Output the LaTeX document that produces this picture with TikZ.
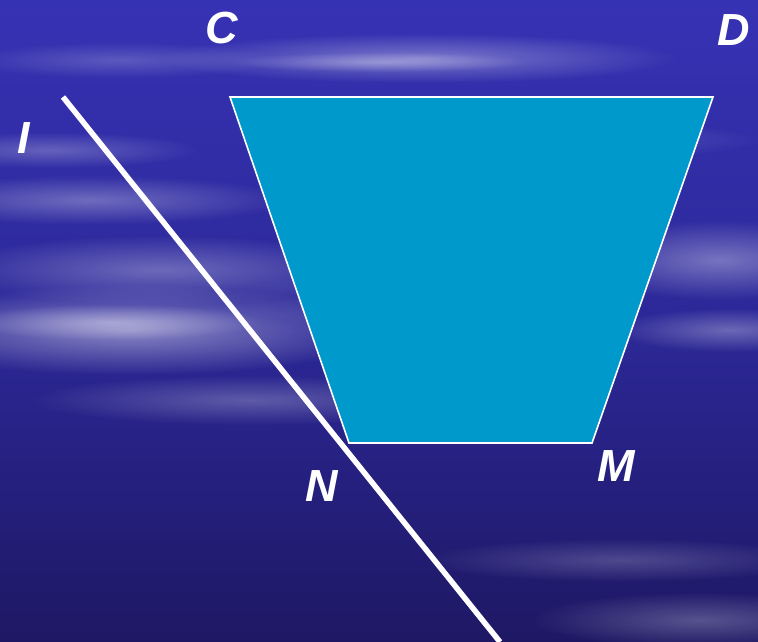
\documentclass[tikz,border=0pt]{standalone}
\usepackage{fontspec}
\setmainfont{Liberation Sans}
\usetikzlibrary{fadings}
\tikzfading[name=softfade, inner color=transparent!0, outer color=transparent!100]
\definecolor{bgtop}{RGB}{54,50,180}
\definecolor{bgmid}{RGB}{44,40,152}
\definecolor{bgbot}{RGB}{30,24,100}
\definecolor{trap}{RGB}{0,153,204}
\tikzset{
  lbl/.style={text=white,font=\fontsize{45}{45}\selectfont\bfseries\itshape,inner sep=0pt},
  streak/.style={fill=white,draw=none,path fading=softfade},
}
\begin{document}
\begin{tikzpicture}[x=1pt,y=-1pt]
\useasboundingbox (0,0) rectangle (758,642);
\shade[top color=bgtop,bottom color=bgbot,middle color=bgmid] (0,0) rectangle (758,642);
% soft cloud streaks
\foreach \cx/\cy/\rx/\ry/\op in {
  130/330/260/45/0.45, 110/322/150/18/0.35, 160/270/220/35/0.3,
  420/58/260/25/0.35, 380/62/150/10/0.3, 720/260/150/40/0.35,
  730/330/120/22/0.3, 90/200/200/25/0.3, 50/150/150/18/0.25,
  560/140/200/20/0.2, 700/620/170/28/0.25, 250/400/220/25/0.25,
  620/560/200/22/0.2, 120/60/160/18/0.2, 420/300/200/30/0.15}
{
  \fill[streak,opacity=\op] (\cx,\cy) ellipse [x radius=\rx, y radius=\ry];
}
\coordinate (C) at (230,97);
\coordinate (D) at (713,97);
\coordinate (M) at (592,443);
\coordinate (N) at (349,443);
\fill[trap] (C) -- (D) -- (M) -- (N) -- cycle;
\draw[white,line width=1.6pt,line join=miter] (C) -- (D) -- (M) -- (N) -- cycle;
\coordinate (L1) at (63,97);
\coordinate (L2) at (500,642);
\draw[white,line width=5.5pt] (L1) -- (L2);
\node[lbl] (lC) at (222,28) {C};
\node[lbl] (lD) at (734,30) {D};
\node[lbl] (lI) at (24,138) {I};
\node[lbl] (lN) at (322,486) {N};
\node[lbl] (lM) at (616,466) {M};
\end{tikzpicture}
\end{document}
